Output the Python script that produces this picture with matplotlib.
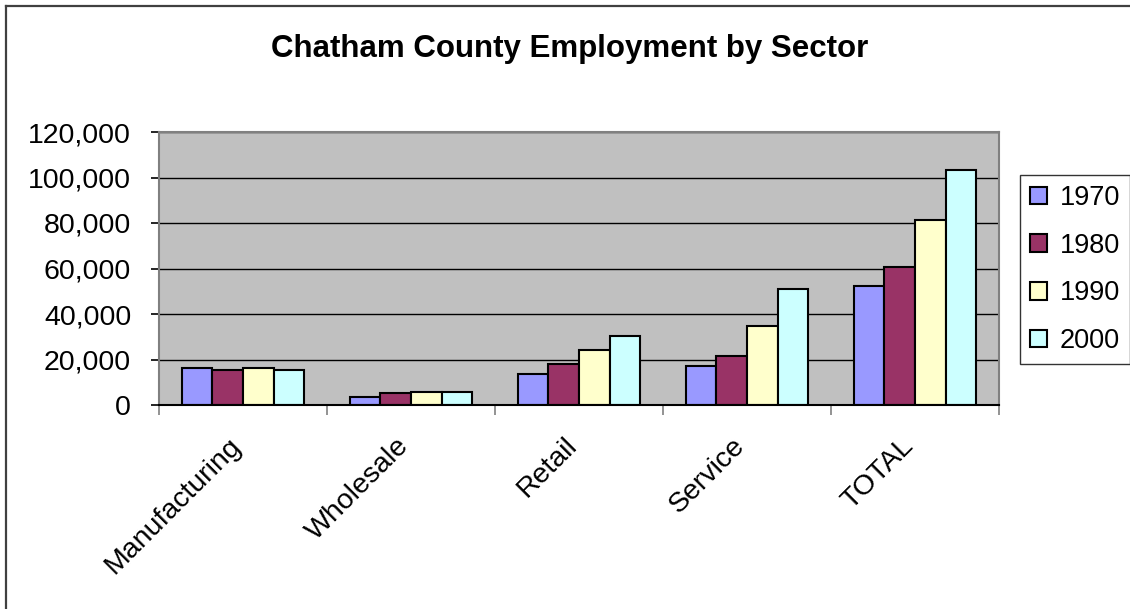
import matplotlib
matplotlib.use("Agg")
import matplotlib.pyplot as plt
import matplotlib.transforms as mtransforms
import numpy as np
from matplotlib.lines import Line2D
from matplotlib.ticker import FuncFormatter, FixedLocator

plt.rcParams['font.family'] = ['Liberation Sans', 'DejaVu Sans']

sectors = ["Manufacturing", "Wholesale", "Retail", "Service", "TOTAL"]
years = ["1970", "1980", "1990", "2000"]
emp_1970 = [16400, 3500, 13800, 17300, 52200]
emp_1980 = [15500, 5100, 18100, 21600, 60800]
emp_1990 = [16400, 5900, 24200, 34700, 81500]
emp_2000 = [15500, 5900, 30300, 51200, 103300]
series = [emp_1970, emp_1980, emp_1990, emp_2000]
colors = ["#9999FF", "#993366", "#FFFFCC", "#CCFFFF"]

W, H = 1130, 609
FS = 20.5
fig = plt.figure(figsize=(W / 100, H / 100), dpi=100)
fig.patch.set_facecolor("white")

# outer chart frame (top and left edges)
fig.add_artist(Line2D([6 / W, 6 / W], [0, 1 - 6 / H], color="#404040", lw=1.6,
                      transform=fig.transFigure))
fig.add_artist(Line2D([6 / W, 1], [1 - 6 / H, 1 - 6 / H], color="#404040", lw=1.6,
                      transform=fig.transFigure))

ax = fig.add_axes([159 / W, 1 - 405 / H, 840 / W, 273 / H])
ax.set_facecolor("#C0C0C0")

x = np.arange(len(sectors))
w = 1 / 5.5
handles = []
for i, (vals, col, yr) in enumerate(zip(series, colors, years)):
    b = ax.bar(x + (i - 1.5) * w, vals, width=w, color=col, edgecolor="black",
               linewidth=1.5, label=yr, zorder=3)
    handles.append(b)

ax.set_xlim(-0.5, len(sectors) - 0.5)
ax.set_ylim(0, 120000)
ax.yaxis.set_major_locator(FixedLocator(np.arange(0, 120001, 20000)))
ax.yaxis.set_major_formatter(FuncFormatter(lambda v, p: f"{int(v):,}"))
ax.grid(axis="y", color="black", lw=1, zorder=1)
ax.set_axisbelow(True)

ax.set_xticks(x)
ax.set_xticklabels(sectors, rotation=45, ha="right", rotation_mode="anchor")
ax.set_xticks(np.arange(-0.5, len(sectors), 1), minor=True)
ax.tick_params(axis="x", which="major", length=0, pad=20, labelsize=FS)
ax.tick_params(axis="x", which="minor", length=7.5, width=1.2, color="#808080")
ax.tick_params(axis="y", length=6, width=1.2, color="black", labelsize=FS, pad=14)

# nudge the slanted category labels to the left
shift = mtransforms.ScaledTranslation(-15 / 100, 0, fig.dpi_scale_trans)
for lbl in ax.get_xticklabels():
    lbl.set_transform(lbl.get_transform() + shift)

for s in ["top", "right", "left"]:
    ax.spines[s].set_color("#808080")
    ax.spines[s].set_linewidth(1.5)
ax.spines["bottom"].set_color("black")
ax.spines["bottom"].set_linewidth(1.5)
ax.spines["bottom"].set_zorder(4)

fig.text(570 / W, 1 - 49 / H, "Chatham County Employment by Sector",
         ha="center", va="center", fontsize=22.5, fontweight="bold")

leg = fig.legend(handles=handles, labels=years, loc="upper left",
                 bbox_to_anchor=(1020 / W, 1 - 175 / H), fontsize=19.5,
                 frameon=True, fancybox=False, edgecolor="black",
                 handlelength=0.63, handleheight=0.63, handletextpad=0.48,
                 labelspacing=0.8, borderpad=0.37, borderaxespad=0)
leg.get_frame().set_linewidth(1.0)

fig.savefig("out.png", dpi=100, facecolor="white")
